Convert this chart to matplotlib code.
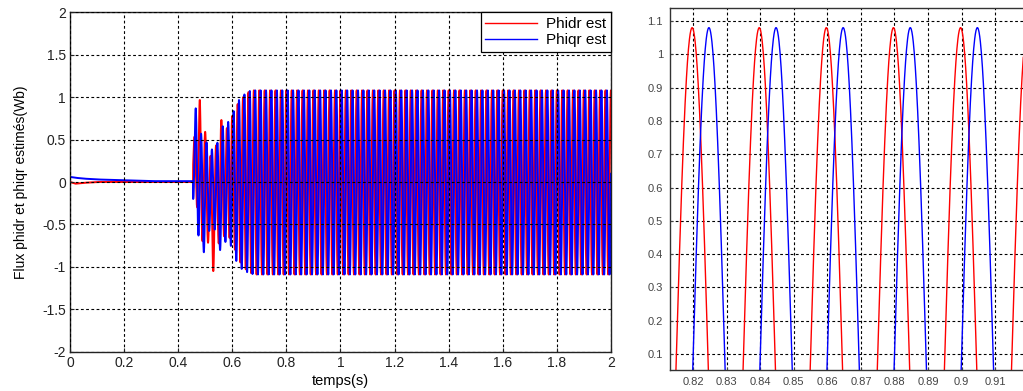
import numpy as np
import matplotlib
matplotlib.use("Agg")
import matplotlib.pyplot as plt

plt.rcParams['font.family'] = ['Liberation Sans', 'DejaVu Sans']

# ---------------- data ----------------
freq_hz = 50.0                 # oscillation frequency of the rotor fluxes
red_peak_time = 0.8197         # a crest of Phidr (right-hand zoom)
blue_peak_time = 0.8247        # a crest of Phiqr (quarter period later)
onset_time = 0.455             # start of oscillation

# before onset: nearly flat values
pre_t = [0.0, 0.02, 0.05, 0.1, 0.2, 0.3, 0.455]
pre_red = [0.0, -0.02, -0.01, 0.0, 0.0, 0.0, 0.0]
pre_blue = [0.06, 0.05, 0.04, 0.03, 0.02, 0.01, 0.01]

# envelopes (upper / lower extremes) after onset
env_t_red = [0.455, 0.47, 0.48, 0.49, 0.505, 0.52, 0.53, 0.545, 0.555, 0.575, 0.6, 0.62, 0.64, 0.66, 0.68, 2.0]
env_up_red = [0.4, 0.8, 0.97, 0.63, 0.57, 0.3, 0.3, 0.5, 0.77, 0.6, 0.78, 0.92, 1.0, 1.06, 1.08, 1.08]
env_lo_red = [-0.1, -0.3, -0.6, -0.7, -0.55, -1.05, -1.05, -0.7, -0.75, -0.6, -0.7, -0.9, -1.0, -1.06, -1.09, -1.09]

env_t_blue = [0.455, 0.465, 0.48, 0.495, 0.51, 0.53, 0.55, 0.56, 0.58, 0.6, 0.62, 0.64, 0.66, 0.68, 2.0]
env_up_blue = [0.8, 0.87, 0.6, 0.5, 0.45, 0.36, 0.5, 0.65, 0.68, 0.8, 0.95, 1.02, 1.07, 1.08, 1.08]
env_lo_blue = [-0.2, -0.5, -0.7, -0.83, -0.6, -0.5, -0.75, -0.86, -0.65, -0.79, -0.98, -1.04, -1.07, -1.09, -1.09]

series_labels = ["Phidr est", "Phiqr est"]
left_xticks = [0, 0.2, 0.4, 0.6, 0.8, 1.0, 1.2, 1.4, 1.6, 1.8, 2.0]
left_yticks = [-2, -1.5, -1, -0.5, 0, 0.5, 1, 1.5, 2]
right_xticks = [0.82, 0.83, 0.84, 0.85, 0.86, 0.87, 0.88, 0.89, 0.90, 0.91]
right_yticks = [0.1, 0.2, 0.3, 0.4, 0.5, 0.6, 0.7, 0.8, 0.9, 1.0, 1.1]
xlabel_text = "temps(s)"
ylabel_text = "Flux phidr et phiqr estimés(Wb)"

# ---------------- build the waveforms ----------------
t = np.arange(0.0, 2.0 + 1e-9, 1e-4)


def waveform(pre_v, env_t, env_up, env_lo, peak):
    up = np.interp(t, env_t, env_up)
    lo = np.interp(t, env_t, env_lo)
    osc = (up + lo) / 2 + (up - lo) / 2 * np.cos(2 * np.pi * freq_hz * (t - peak))
    flat = np.interp(t, pre_t, pre_v)
    return np.where(t < onset_time, flat, osc)


phidr = waveform(pre_red, env_t_red, env_up_red, env_lo_red, red_peak_time)
phiqr = waveform(pre_blue, env_t_blue, env_up_blue, env_lo_blue, blue_peak_time)

# ---------------- figure ----------------
W, H = 1023, 391
fig = plt.figure(figsize=(W / 100, H / 100), dpi=100)

grid_kw = dict(color='black', linestyle=(0, (2.5, 2.2)), linewidth=0.8)

# left panel
axL = fig.add_axes([70 / W, 1 - 351.7 / H, (611 - 70) / W, (351.7 - 12.3) / H])
axL.plot(t, phidr, color='#ff0000', lw=1.4, label=series_labels[0])
axL.plot(t, phiqr, color='#0000ff', lw=1.4, label=series_labels[1])
axL.set_xlim(0, 2)
axL.set_ylim(-2, 2)
axL.set_xticks(left_xticks)
axL.set_xticklabels(['%g' % v for v in left_xticks])
axL.set_yticks(left_yticks)
axL.set_yticklabels(['%g' % v for v in left_yticks])
axL.tick_params(direction='in', length=3, labelsize=10, colors='#222222', pad=3)
axL.grid(True, **grid_kw)
axL.set_axisbelow(False)
for s in axL.spines.values():
    s.set_color('#222222')
    s.set_linewidth(1.0)
axL.set_xlabel(xlabel_text, fontsize=10.5, labelpad=3)
axL.set_ylabel(ylabel_text, fontsize=10, labelpad=10)
leg = axL.legend(loc='upper right', borderaxespad=0, fontsize=11, frameon=True,
                 fancybox=False, handlelength=3.4, handletextpad=0.6,
                 borderpad=0.3, labelspacing=0.15)
leg.get_frame().set_edgecolor('black')
leg.get_frame().set_linewidth(0.9)
leg.get_frame().set_alpha(1)
for h in leg.get_lines():
    h.set_linewidth(1.0)

# right panel (zoom)
axR = fig.add_axes([670 / W, 1 - 370 / H, (W - 670) / W, (370 - 8) / H])
axR.plot(t, phidr, color='#ff0000', lw=1.0)
axR.plot(t, phiqr, color='#0000ff', lw=1.0)
axR.set_xlim(0.8131, 0.9183)
axR.set_ylim(0.052, 1.139)
axR.set_xticks(right_xticks)
axR.set_xticklabels(['%g' % v for v in right_xticks])
axR.set_yticks(right_yticks)
axR.set_yticklabels(['%g' % v for v in right_yticks])
axR.tick_params(direction='in', length=2, labelsize=8, colors='#444444', pad=5)
axR.grid(True, **grid_kw)
axR.spines['right'].set_visible(False)
for k in ['left', 'top', 'bottom']:
    axR.spines[k].set_color('#333333')
    axR.spines[k].set_linewidth(1.0)

fig.savefig('out.png', dpi=100)
